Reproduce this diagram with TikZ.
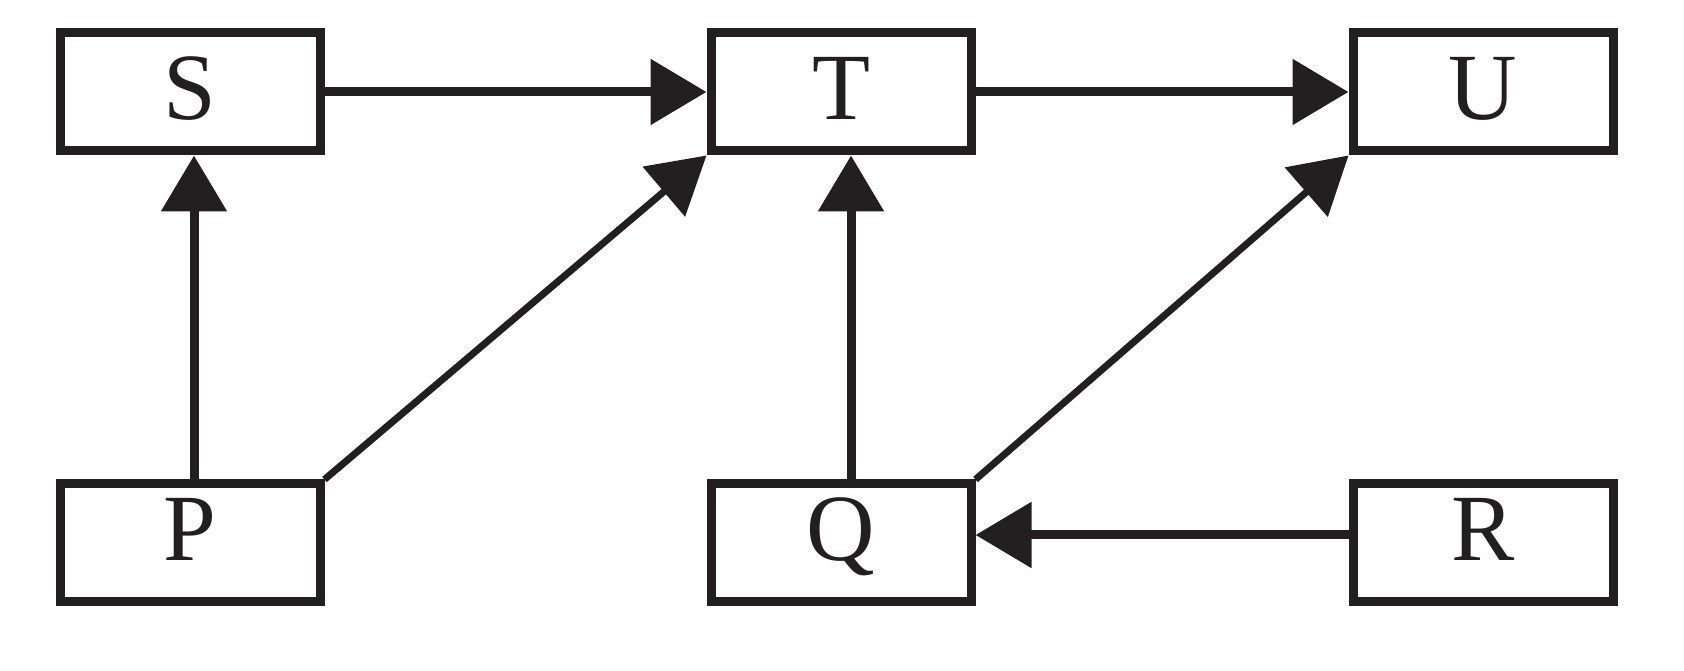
\documentclass[tikz,border=0pt]{standalone}
\usepackage{fontspec}
\setmainfont{Liberation Serif}
\usetikzlibrary{arrows.meta}
\definecolor{ink}{RGB}{35,31,32}

\begin{document}
\begin{tikzpicture}
    \useasboundingbox (0,0) rectangle (16.84,6.71);
    \begin{scope}[every node/.style={rectangle,draw=ink,text=ink,line width=0.09cm,
        minimum width=2.6cm,minimum height=1.18cm,text depth=0.08cm,
        font=\fontsize{27}{30}\selectfont}]
      \node (S) at (1.9,5.79) {S};
      \node (T) at (8.41,5.79) {T};
      \node (U) at (14.83,5.79) {U};
      \node[text depth=0.28cm] (P) at (1.9,1.28) {P};
      \node[text depth=0.28cm] (Q) at (8.41,1.28) {Q};
      \node[text depth=0.28cm] (R) at (14.83,1.28) {R};
    \end{scope}

    \begin{scope}[>={Triangle[length=0.56cm,width=0.64cm]},
        every edge/.style={draw=ink,line width=0.09cm}]
      \path (S) edge[->] (T);
      \path (T) edge[->] (U);
      \path ([xshift=0.04cm]P.north) edge[->] ([xshift=0.04cm]S.south);
      \path ([xshift=0.1cm]Q.north) edge[->] ([xshift=0.1cm]T.south);
      \path ([yshift=0.08cm]R.west) edge[->] ([yshift=0.08cm]Q.east);
      \path (P.north east) edge[->,line width=0.07cm] (T.south west);
      \path (Q.north east) edge[->,line width=0.07cm] (U.south west);
    \end{scope}
\end{tikzpicture}
\end{document}
